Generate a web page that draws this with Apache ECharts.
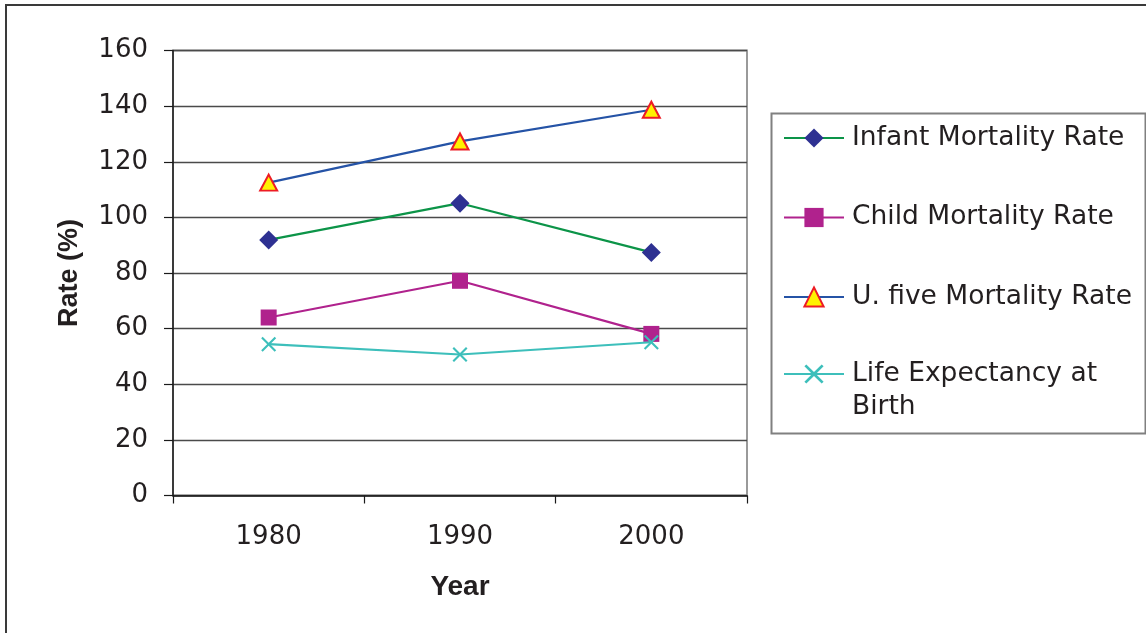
<!DOCTYPE html>
<html>
<head>
<meta charset="utf-8">
<title>Mortality rates and life expectancy, 1980–2000</title>
<script src="https://cdn.jsdelivr.net/npm/echarts@6/dist/echarts.min.js"></script>
<style>
  html, body { margin: 0; padding: 0; background: #ffffff; }
  #chart { width: 1146px; height: 633px; }
</style>
</head>
<body>
<div id="chart"></div>
<script>
// Census years on the category axis
const years = ['1980', '1990', '2000'];

// Values per indicator (Rate %)
const infantMortality = [91.9, 105.1, 87.4];
const childMortality = [64.0, 77.2, 58.1];
const underFiveMortality = [112.5, 127.3, 138.7];
const lifeExpectancy = [54.4, 50.7, 55.1];

// Value axis range and step
const yMin = 0;
const yMax = 160;
const yStep = 20;

const seriesNames = [
  'Infant Mortality Rate',
  'Child Mortality Rate',
  'U. five Mortality Rate',
  'Life Expectancy at Birth'
];

const TEXT = '#231f20';
const REGULAR = 'DejaVu Sans';
const BOLD = 'Liberation Sans';

// Filled "x" cross marker
const crossSymbol = 'path://M0,1 L1,0 L5,4 L9,0 L10,1 L6,5 L10,9 L9,10 L5,6 L1,10 L0,9 L4,5 Z';

const chart = echarts.init(document.getElementById('chart'), null, { renderer: 'canvas' });

const option = {
  backgroundColor: '#ffffff',
  animation: false,
  graphic: [
    {
      type: 'rect',
      shape: { x: 6, y: 5, width: 1160, height: 660 },
      style: { fill: 'none', stroke: '#3a3a3a', lineWidth: 2 },
      silent: true,
      z: 0
    },
    {
      type: 'rect',
      shape: { x: 771.5, y: 113.5, width: 374, height: 320 },
      style: { fill: 'none', stroke: '#808080', lineWidth: 2 },
      silent: true,
      z: 0
    }
  ],
  grid: {
    left: 173,
    right: 399,
    top: 50.5,
    bottom: 137.5,
    show: true,
    borderColor: '#9a9a9a',
    borderWidth: 2,
    backgroundColor: 'transparent'
  },
  legend: [
    {
      orient: 'vertical',
      left: 783,
      top: 123,
      padding: 0,
      itemGap: 49.5,
      itemWidth: 60,
      itemHeight: 24,
      data: seriesNames.slice(0, 3),
      textStyle: {
        fontFamily: REGULAR,
        fontSize: 26.5,
        color: TEXT,
        lineHeight: 30,
        padding: [0, 0, 0, 3]
      }
    },
    {
      orient: 'vertical',
      left: 783,
      top: 327.5,
      padding: 0,
      itemWidth: 60,
      itemHeight: 24,
      data: [seriesNames[3]],
      formatter: function () {
        return '{s| }\n{t|Life Expectancy at}\n{t|Birth}';
      },
      textStyle: {
        fontFamily: REGULAR,
        fontSize: 26.5,
        color: TEXT,
        padding: [0, 0, 0, 3],
        rich: {
          s: { fontFamily: REGULAR, fontSize: 26.5, lineHeight: 33, color: TEXT },
          t: { fontFamily: REGULAR, fontSize: 26.5, lineHeight: 33, color: TEXT }
        }
      }
    }
  ],
  xAxis: {
    type: 'category',
    data: years,
    boundaryGap: true,
    name: 'Year',
    nameLocation: 'middle',
    nameGap: 78,
    nameTextStyle: { fontFamily: BOLD, fontWeight: 'bold', fontSize: 28, color: TEXT },
    axisLine: { show: true, lineStyle: { color: '#1a1a1a', width: 1.5 } },
    axisTick: { show: true, alignWithLabel: false, length: 8, lineStyle: { color: '#1a1a1a', width: 1.2 } },
    axisLabel: { fontFamily: REGULAR, fontSize: 26, color: TEXT, margin: 29 },
    splitLine: { show: false }
  },
  yAxis: {
    type: 'value',
    min: yMin,
    max: yMax,
    interval: yStep,
    name: 'Rate (%)',
    nameLocation: 'middle',
    nameGap: 90,
    nameTextStyle: { fontFamily: BOLD, fontWeight: 'bold', fontSize: 27, color: TEXT },
    axisLine: { show: true, lineStyle: { color: '#1a1a1a', width: 1.5 } },
    axisTick: { show: true, inside: false, length: 9, lineStyle: { color: '#1a1a1a', width: 1.2 } },
    axisLabel: { fontFamily: REGULAR, fontSize: 26, color: TEXT, margin: 25 },
    splitLine: { show: true, lineStyle: { color: '#4a4a4a', width: 1.4 } }
  },
  series: [
    {
      name: seriesNames[0],
      type: 'line',
      data: infantMortality,
      symbol: 'diamond',
      symbolSize: [19, 19],
      lineStyle: { color: '#0c9448', width: 2.2 },
      itemStyle: { color: '#2e3192' },
      z: 3
    },
    {
      name: seriesNames[1],
      type: 'line',
      data: childMortality,
      symbol: 'rect',
      symbolSize: 16,
      lineStyle: { color: '#b0228d', width: 2.2 },
      itemStyle: { color: '#b0228d' },
      z: 3
    },
    {
      name: seriesNames[2],
      type: 'line',
      data: underFiveMortality,
      symbol: 'triangle',
      symbolSize: [17, 16],
      lineStyle: { color: '#2553a6', width: 2.2 },
      itemStyle: { color: '#fff200', borderColor: '#ed1c24', borderWidth: 2 },
      z: 3
    },
    {
      name: seriesNames[3],
      type: 'line',
      data: lifeExpectancy,
      symbol: crossSymbol,
      symbolSize: 15,
      lineStyle: { color: '#3dbfbb', width: 2.2 },
      itemStyle: { color: '#3dbfbb' },
      z: 4
    }
  ]
};

chart.setOption(option);
</script>
</body>
</html>
